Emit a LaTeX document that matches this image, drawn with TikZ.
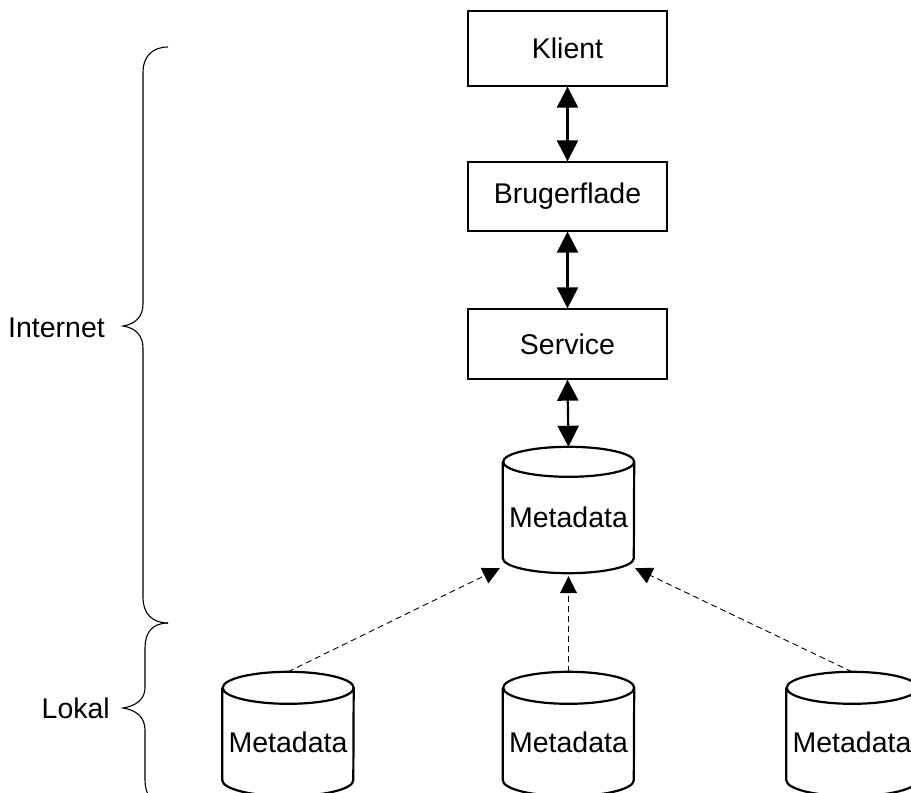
\documentclass[tikz,border=0pt]{standalone}
\usepackage{fontspec}
\setmainfont{Liberation Sans}
\usetikzlibrary{arrows.meta}
% draws a cylinder around a node: #1 node name, #2 half height of the ellipses
\newcommand\drawdbcyl[2]{%
  \draw[cylline] (#1.north west) -- ([yshift=#2]#1.south west)
    arc[start angle=180,end angle=360,x radius=65.5pt,y radius=#2]
    -- (#1.north east)
    arc[start angle=0,end angle=360,x radius=65.5pt,y radius=#2];}
\begin{document}
\begin{tikzpicture}[x=1pt,y=1pt,
  every node/.style={font=\fontsize{28.5}{34}\selectfont},
  box/.style={draw, line width=1.3pt, minimum width=199pt, inner sep=0pt},
  dbtext/.style={minimum width=131pt, inner sep=0pt},
  cylline/.style={line width=2.2pt},
  link/.style={line width=2.2pt,
    {Triangle[length=21pt,width=21pt]}-{Triangle[length=21pt,width=21pt]}},
  feed/.style={line width=0.9pt, dash pattern=on 6pt off 4pt,
    -{Triangle[length=17pt,width=17pt]}},
  bracepath/.style={line width=1.1pt}
]
\useasboundingbox (0,0) rectangle (911,-793);

% service chain
\node[box, minimum height=75pt] (klient)  at (567.5,-48.5) {Klient};
\node[box, minimum height=69pt] (bruger)  at (567.5,-196.5) {Brugerflade};
\node[box, minimum height=70pt] (service) at (567.5,-344) {Service};

% central metadata store
\node[dbtext, minimum height=111pt] (meta) at (568.5,-517.5) {Metadata};
\drawdbcyl{meta}{15pt}

% local metadata stores
\node[dbtext, minimum height=108pt] (loc1) at (288,-742) {Metadata};
\node[dbtext, minimum height=108pt] (loc2) at (568.5,-742) {Metadata};
\node[dbtext, minimum height=108pt] (loc3) at (852,-742) {Metadata};
\drawdbcyl{loc1}{16pt}
\drawdbcyl{loc2}{16pt}
\drawdbcyl{loc3}{16pt}

% two-way links
\draw[link] (klient) -- (bruger);
\draw[link] (bruger) -- (service);
\draw[link] (service.south) -- ([yshift=15pt]meta.north);

% harvesting from local stores
\draw[feed] ([yshift=16pt]loc1.north) -- ([xshift=-3pt,yshift=5pt]meta.south west);
\draw[feed] ([yshift=16pt]loc2.north) -- ([yshift=-3pt]meta.south);
\draw[feed] ([yshift=16pt]loc3.north) -- ([xshift=1pt,yshift=5pt]meta.south east);

% scope labels with braces
\node[anchor=east, inner sep=0pt] (internet) at (105,-328) {Internet};
\node[anchor=east, inner sep=0pt] (lokal) at (110,-708) {Lokal};
\coordinate (itip) at (123,-326);
\coordinate (ltip) at (123,-708);
\draw[bracepath] (168,-47) .. controls (152,-47) and (143,-57) .. (143,-72)
  -- (143,-304) .. controls (143,-316) and (136,-324) .. (itip)
  .. controls (136,-328) and (143,-336) .. (143,-348)
  -- (143,-598) .. controls (143,-613) and (152,-623) .. (168,-623);
\draw[bracepath] (168,-623) .. controls (152,-623) and (145,-633) .. (145,-648)
  -- (145,-688) .. controls (145,-699) and (136,-706) .. (ltip)
  .. controls (136,-710) and (145,-717) .. (145,-730)
  -- (145,-780) .. controls (145,-795) and (152,-805) .. (168,-805);
\end{tikzpicture}
\end{document}
